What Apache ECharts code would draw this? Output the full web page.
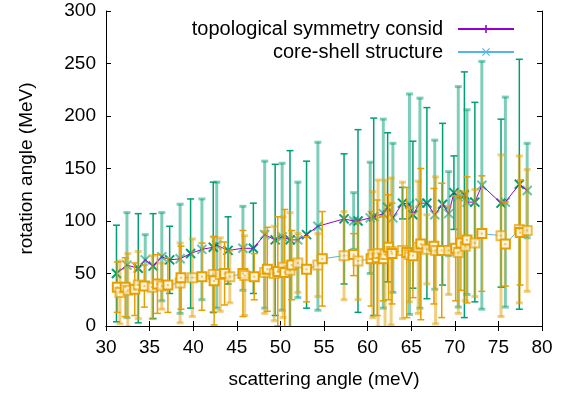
<!DOCTYPE html>
<html>
<head>
<meta charset="utf-8">
<script src="https://cdn.jsdelivr.net/npm/echarts@6/dist/echarts.min.js"></script>
<style>html,body{margin:0;padding:0;background:#fff}#c{width:578px;height:394px}</style>
</head>
<body>
<div id="c"></div>
<script>
// Series 1: topological symmetry consid
const x1 = [31.2,32.4,33.7,34.5,35.4,36.4,37.3,38.5,39.7,41.0,42.3,42.7,44.0,45.7,46.9,48.2,49.4,50.2,51.1,52.0,53.0,54.3,57.3,58.4,58.9,60.3,60.7,61.8,62.3,62.9,64.0,64.8,65.2,66.0,66.8,67.7,68.6,69.3,69.9,70.4,71.1,71.4,72.3,73.1,75.3,75.8,77.4,78.3];
const y1 = [50,58,55,63,57,66,63,64,69,73,75,77,72,74,74,87,82,85,82,82,87,95,102,100,100,103,104,107,113,103,117,116,106,117,117,106,116,107,127,123,125,118,118,134,117,118,135,129];
const e1 = [46,50,52,24,50,42,32,52,52,48,62,60,32,40,43,70,72,70,85,55,70,80,62,27,87,53,94,90,71,71,15,105,70,100,91,71,77,40,35,105,117,88,95,118,80,100,119,45];
// Series 2: core-shell structure
const x2 = [31.3,31.6,32.2,32.5,33.3,33.7,34.4,35.3,35.9,36.4,37.1,38.5,38.6,39.9,41.0,42.3,42.4,43.1,43.6,44.2,45.7,45.9,47.0,48.2,48.5,49.3,49.7,50.3,50.5,51.1,51.3,52.0,53.0,54.3,54.8,57.3,58.4,58.9,60.4,60.6,61.1,61.2,61.8,62.0,62.4,62.7,62.8,64.0,64.5,64.8,65.2,65.8,66.1,66.8,67.6,67.8,68.5,69.3,70.1,70.4,70.7,71.2,71.4,72.3,73.1,75.3,75.8,77.4,77.5,78.3];
const y2 = [37,32,37,34,35,39,38,37,40,38,39,41,46,46,47,49,43,49,50,47,50,48,47,51,54,50,52,56,51,53,58,60,54,58,64,67,68,62,64,68,65,69,64,68,75,71,69,72,70,68,67,75,78,73,76,72,72,72,74,70,79,76,82,79,88,86,78,92,89,91];
const e2 = [24,30,28,35,25,32,20,30,28,22,26,38,30,37,32,36,42,35,30,25,41,38,22,39,40,45,52,48,60,55,33,28,31,30,45,42,20,37,45,60,55,70,40,71,50,70,48,65,62,45,40,63,72,33,55,70,64,42,50,58,45,52,60,51,55,77,40,70,50,58];

const xTicks = [30, 80, 5];
const yTicks = [0, 300, 50];
const names = ['topological symmetry consid', 'core-shell structure'];

const FONT = 'Liberation Sans, Arial, sans-serif';
const C1line = '#9400d3', C1pt = '#009e73', C2line = '#56b4e9', C2pt = '#e69f00';

function zip3(xs, ys, es) { return xs.map((x, i) => [x, ys[i], es[i], i]); }

function makeRender(color, marker) {
  return function (params, api) {
    const x = api.value(0), y = api.value(1), e = api.value(2), i = api.value(3);
    const c = api.coord([x, y]);
    const t = api.coord([x, y + e]);
    const b = api.coord([x, y - e]);
    const light = (i % 2) === 1;
    const lw = light ? 3 : 1.5;
    const op = light ? 0.5 : 1;
    const cw = 3.5;
    const st = { stroke: color, lineWidth: lw, opacity: op };
    const ch = [
      { type: 'line', shape: { x1: c[0], y1: t[1], x2: c[0], y2: b[1] }, style: st },
      { type: 'line', shape: { x1: c[0] - cw, y1: t[1], x2: c[0] + cw, y2: t[1] }, style: st },
      { type: 'line', shape: { x1: c[0] - cw, y1: b[1], x2: c[0] + cw, y2: b[1] }, style: st }
    ];
    const ms = 4.5;
    if (marker === 'x') {
      const ps = { stroke: color, lineWidth: 2, opacity: light ? 0.6 : 1 };
      ch.push({ type: 'line', shape: { x1: c[0] - ms, y1: c[1] - ms, x2: c[0] + ms, y2: c[1] + ms }, style: ps, z2: 5 });
      ch.push({ type: 'line', shape: { x1: c[0] - ms, y1: c[1] + ms, x2: c[0] + ms, y2: c[1] - ms }, style: ps, z2: 5 });
    } else {
      ch.push({ type: 'rect', shape: { x: c[0] - ms, y: c[1] - ms, width: 2 * ms, height: 2 * ms }, style: { stroke: color, lineWidth: 2, fill: '#fff4dc', opacity: light ? 0.7 : 1 }, z2: 5 });
      ch.push({ type: 'rect', shape: { x: c[0] - 1, y: c[1] - 1, width: 2, height: 2 }, style: { fill: color, opacity: 0.6 }, z2: 6 });
    }
    return { type: 'group', children: ch };
  };
}

const chart = echarts.init(document.getElementById('c'), null, { renderer: 'canvas' });
const axisCommon = {
  min: null, max: null, interval: null,
  axisLine: { show: true, lineStyle: { color: '#000', width: 1 } },
  axisTick: { show: true, inside: true, length: 5, lineStyle: { color: '#000', width: 1 } },
  splitLine: { show: false }
};
function xa(pos, labels) {
  return Object.assign({}, axisCommon, {
    type: 'value', position: pos, min: xTicks[0], max: xTicks[1], interval: xTicks[2],
    axisLabel: { show: labels, color: '#000', fontSize: 19, fontFamily: FONT, margin: 12 },
    name: labels ? 'scattering angle (meV)' : '', nameLocation: 'middle', nameGap: 44,
    nameTextStyle: { color: '#000', fontSize: 19, fontFamily: FONT }
  });
}
function ya(pos, labels) {
  return Object.assign({}, axisCommon, {
    type: 'value', position: pos, min: yTicks[0], max: yTicks[1], interval: yTicks[2],
    axisLabel: { show: labels, color: '#000', fontSize: 19, fontFamily: FONT, margin: 10 },
    name: labels ? 'rotation angle (MeV)' : '', nameLocation: 'middle', nameGap: 70,
    nameTextStyle: { color: '#000', fontSize: 19, fontFamily: FONT }
  });
}

chart.setOption({
  animation: false,
  grid: { left: 106, right: 36, top: 11, bottom: 68 },
  xAxis: [xa('bottom', true), xa('top', false)],
  yAxis: [ya('left', true), ya('right', false)],
  legend: {
    data: names, orient: 'vertical', align: 'right', right: 58, top: 14,
    itemWidth: 56, itemHeight: 10, itemGap: 3,
    textStyle: { color: '#000', fontSize: 20, fontFamily: FONT, padding: [0, 10, 0, 0] }
  },
  series: [
    { type: 'custom', renderItem: makeRender(C1pt, 'x'), data: zip3(x1, y1, e1), clip: true, z: 2,
      encode: { x: 0, y: 1 } },
    { type: 'line', name: names[0], data: x1.map((x, i) => [x, y1[i]]), showSymbol: false,
      symbol: 'path://M4,0H6V4H10V6H6V10H4V6H0V4H4Z', symbolSize: 9,
      itemStyle: { color: C1line }, lineStyle: { color: C1line, width: 1 }, z: 3 },
    { type: 'custom', renderItem: makeRender(C2pt, 's'), data: zip3(x2, y2, e2), clip: true, z: 4,
      encode: { x: 0, y: 1 } },
    { type: 'line', name: names[1], data: x2.map((x, i) => [x, y2[i]]), showSymbol: false,
      symbol: 'path://M1,0L5,4L9,0L10,1L6,5L10,9L9,10L5,6L1,10L0,9L4,5L0,1Z', symbolSize: 8,
      itemStyle: { color: C2line }, lineStyle: { color: C2line, width: 1 }, z: 3 }
  ]
});
</script>
</body>
</html>
